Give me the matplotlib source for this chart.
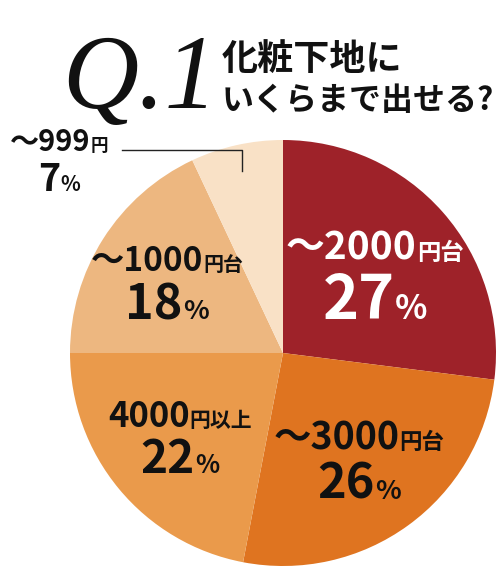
import matplotlib
matplotlib.use("Agg")
import numpy as np
import matplotlib.pyplot as plt
from matplotlib.offsetbox import TextArea, HPacker, VPacker, AnnotationBbox

plt.rcParams["font.family"] = ["Noto Sans CJK JP", "DejaVu Sans"]

# data, clockwise from 12 o'clock
shares = [27, 26, 22, 18, 7]
amounts = ["〜2000", "〜3000", "4000", "〜1000", "〜999"]
units = ["円台", "円台", "円以上", "円台", "円"]
colors = ["#9e2229", "#df7420", "#ea9a4b", "#edb780", "#f9e1c6"]
text_colors = ["white", "#111111", "#111111", "#111111", "#111111"]

title_q = "Q.1"
title_lines = ["化粧下地に", "いくらまで出せる?"]

# label styling: (radius, angle offset deg, amount pt, percent pt)
label_style = [(0.55, -3.0, 28, 44), (0.63, -1.4, 27, 35),
               (0.636, 0.9, 25, 33), (0.627, 2.8, 24, 35)]

W, H = 500, 567
cx, cy, R = 283, 353, 213

fig = plt.figure(figsize=(W / 100, H / 100), dpi=100)
ax = fig.add_axes([0, 0, 1, 1])
ax.axis("off")

wedges, _ = ax.pie(shares, colors=colors, startangle=90, counterclock=False,
                   radius=1.0, wedgeprops=dict(linewidth=0))
ax.set_xlim(-cx / R, (W - cx) / R)
ax.set_ylim(-(H - cy) / R, cy / R)
ax.set_aspect("auto")


def make_label(amount, unit, share, c, amt_pt, pct_pt):
    top = HPacker(children=[
        TextArea(amount, textprops=dict(fontsize=amt_pt, fontweight="bold", color=c)),
        TextArea(unit, textprops=dict(fontsize=amt_pt * 0.6, fontweight="bold", color=c)),
    ], align="baseline", pad=0, sep=0)
    bottom = HPacker(children=[
        TextArea(str(share), textprops=dict(fontsize=pct_pt, fontweight="bold", color=c)),
        TextArea("%", textprops=dict(fontsize=pct_pt * 0.55, fontweight="bold", color=c)),
    ], align="baseline", pad=0, sep=0)
    return VPacker(children=[top, bottom], align="center", pad=0, sep=2)


for i, (r, off, apt, ppt) in enumerate(label_style):
    w = wedges[i]
    mid = np.deg2rad((w.theta1 + w.theta2) / 2 + off)
    pos = (r * np.cos(mid), r * np.sin(mid))
    box = make_label(amounts[i], units[i], shares[i], text_colors[i], apt, ppt)
    ax.add_artist(AnnotationBbox(box, pos, frameon=False, box_alignment=(0.5, 0.5)))

# small slice: outside label with leader line
w = wedges[4]
mid = np.deg2rad((w.theta1 + w.theta2) / 2)
px, py = 0.875 * np.cos(mid), 0.875 * np.sin(mid)
line_y = (cy - 150) / R
line_x0 = (122 - cx) / R
ax.plot([px, px, line_x0], [py, line_y, line_y], color="#222222", lw=1.0)
box = make_label(amounts[4], units[4], shares[4], text_colors[4], 21, 27)
ax.add_artist(AnnotationBbox(box, ((59 - cx) / R, (cy - 163) / R), frameon=False,
                             box_alignment=(0.5, 0.5)))

# title
fig.text(62 / W, 1 - 108 / H, title_q, family="Liberation Serif", style="italic",
         fontsize=76, color="#111111", ha="left", va="baseline")
fig.text(222 / W, 1 - 70 / H, title_lines[0], fontsize=26, fontweight="bold",
         color="#111111", ha="left", va="baseline")
fig.text(222 / W, 1 - 110 / H, title_lines[1], fontsize=23, fontweight="bold",
         color="#111111", ha="left", va="baseline")

fig.savefig("out.png", dpi=100)
